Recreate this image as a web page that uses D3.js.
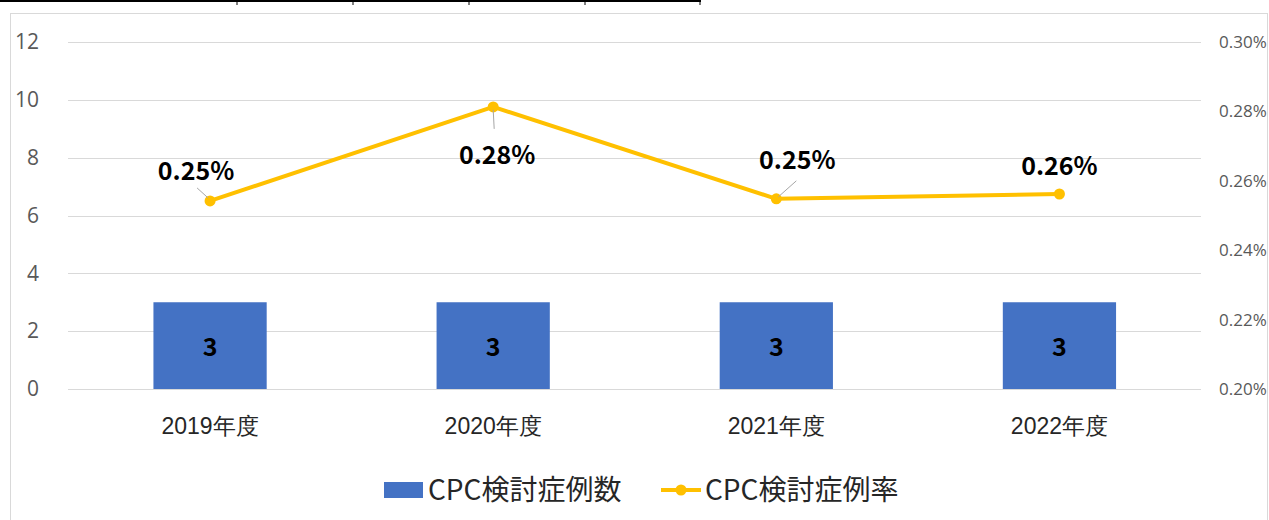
<!DOCTYPE html>
<html>
<head>
<meta charset="utf-8">
<script src="https://cdn.jsdelivr.net/npm/d3@7"></script>
<style>
  body { margin: 0; background: #fff; }
  svg { display: block; font-family: "Noto Sans CJK JP", "Noto Sans", sans-serif; }
</style>
</head>
<body>
<svg id="chart"></svg>
<script>
// CPC検討症例数 (bars, left axis) and CPC検討症例率 (line, right axis)
const years = ["2019年度", "2020年度", "2021年度", "2022年度"];
const caseCounts = [3, 3, 3, 3];
const caseRates = [0.2542, 0.2813, 0.2548, 0.2562];
const rateLabels = ["0.25%", "0.28%", "0.25%", "0.26%"];
const leftTicks = [0, 2, 4, 6, 8, 10, 12];
const rightTicks = [0.2, 0.22, 0.24, 0.26, 0.28, 0.3];

(function draw() {
  const width = 1269,
    height = 520,
    margin = { top: 42, right: 68, bottom: 131, left: 68 };

  const svg = d3.select("svg#chart").attr("width", width).attr("height", height);

  // table fragment above the chart
  const top = svg.append("g");
  top.append("line")
    .attr("x1", 0).attr("x2", 701).attr("y1", 1).attr("y2", 1)
    .attr("stroke", "#000").attr("stroke-width", 2);
  top.selectAll("line.tk")
    .data([237, 353, 469, 585, 700])
    .join("line")
    .attr("class", "tk")
    .attr("x1", d => d).attr("x2", d => d)
    .attr("y1", 1).attr("y2", 5)
    .attr("stroke", "#000").attr("stroke-width", 1);

  // chart frame
  svg.append("rect")
    .attr("x", 10.5).attr("y", 13.5)
    .attr("width", 1257).attr("height", 520)
    .attr("fill", "#fff").attr("stroke", "#d9d9d9");

  const x = d3.scaleBand(years, [margin.left + 0.5, width - margin.right]).paddingInner(0.6).paddingOuter(0.3);
  const xc = d => x(d) + x.bandwidth() / 2;
  const yL = d3.scaleLinear([0, 12], [height - margin.bottom, margin.top]);
  const yR = d3.scaleLinear([0.2, 0.3], [height - margin.bottom, margin.top]);

  // gridlines
  svg.append("g")
    .selectAll("line")
    .data(leftTicks)
    .join("line")
    .attr("x1", margin.left).attr("x2", width - margin.right)
    .attr("y1", d => Math.round(yL(d)) + 0.5).attr("y2", d => Math.round(yL(d)) + 0.5)
    .attr("stroke", "#d9d9d9");

  // left axis
  svg.append("g")
    .attr("transform", `translate(${margin.left}, 0)`)
    .call(d3.axisLeft(yL).tickValues(leftTicks).tickSize(0).tickPadding(29))
    .call(g => g.select(".domain").remove())
    .selectAll("text")
    .attr("fill", "#595959")
    .style("font-size", "21px")
    .style("font-family", "Open Sans, sans-serif");

  // right axis
  svg.append("g")
    .attr("transform", `translate(${width - margin.right}, 0)`)
    .call(d3.axisRight(yR).tickValues(rightTicks).tickSize(0).tickPadding(18)
      .tickFormat(d => d.toFixed(2) + "%"))
    .call(g => g.select(".domain").remove())
    .selectAll("text")
    .attr("fill", "#595959")
    .style("font-size", "17px")
    .style("font-family", "Open Sans, sans-serif");

  // category axis
  svg.append("g")
    .attr("transform", `translate(0, ${height - margin.bottom})`)
    .call(d3.axisBottom(x).tickSize(0).tickPadding(29))
    .call(g => g.select(".domain").remove())
    .selectAll("text")
    .attr("fill", "#262626")
    .style("font-size", "23px");

  // bars
  const bars = svg.append("g")
    .selectAll("g")
    .data(years.map((y, i) => ({ year: y, count: caseCounts[i] })))
    .join("g");

  bars.append("rect")
    .attr("x", d => x(d.year))
    .attr("y", d => yL(d.count))
    .attr("width", x.bandwidth())
    .attr("height", d => yL(0) - yL(d.count))
    .attr("fill", "#4472c4");

  bars.append("text")
    .attr("x", d => xc(d.year))
    .attr("y", d => (yL(0) + yL(d.count)) / 2 + 2)
    .attr("dy", "0.35em")
    .attr("text-anchor", "middle")
    .style("font-size", "25px")
    .style("font-weight", "bold")
    .text(d => d.count);

  // line
  const pts = years.map((y, i) => ({ year: y, rate: caseRates[i], label: rateLabels[i] }));
  const line = d3.line().x(d => xc(d.year)).y(d => yR(d.rate));

  svg.append("path")
    .datum(pts)
    .attr("d", line)
    .attr("fill", "none")
    .attr("stroke", "#ffc000")
    .attr("stroke-width", 4)
    .attr("stroke-linejoin", "round");

  svg.append("g")
    .selectAll("circle")
    .data(pts)
    .join("circle")
    .attr("cx", d => xc(d.year))
    .attr("cy", d => yR(d.rate))
    .attr("r", 5.5)
    .attr("fill", "#ffc000");

  // data label placement relative to each point: [dx, baseline dy, leader end dx, dy, leader start dx, dy]
  const labelOffsets = [
    [-14, -21, -13, -13, -2, -3],
    [4, 57, 1, 22, 0, 3],
    [21, -30, 20, -18, 2, -2],
    [0, -19, null, null, null, null]
  ];

  const labels = svg.append("g")
    .selectAll("g")
    .data(pts)
    .join("g")
    .attr("transform", d => `translate(${xc(d.year)}, ${yR(d.rate)})`);

  labels.filter((d, i) => labelOffsets[i][2] !== null)
    .append("line")
    .attr("x1", d => labelOffsets[pts.indexOf(d)][4])
    .attr("y1", d => labelOffsets[pts.indexOf(d)][5])
    .attr("x2", d => labelOffsets[pts.indexOf(d)][2])
    .attr("y2", d => labelOffsets[pts.indexOf(d)][3])
    .attr("stroke", "#a6a6a6")
    .attr("stroke-width", 1);

  labels.append("text")
    .attr("x", (d, i) => labelOffsets[i][0])
    .attr("y", (d, i) => labelOffsets[i][1])
    .attr("text-anchor", "middle")
    .style("font-size", "25px")
    .style("font-weight", "bold")
    .text(d => d.label);

  // legend
  const legend = svg.append("g").attr("transform", "translate(0, 490)");
  legend.append("rect")
    .attr("x", 384).attr("y", -8).attr("width", 39).attr("height", 16)
    .attr("fill", "#4472c4");
  legend.append("text")
    .attr("x", 428).attr("dy", "0.35em")
    .style("font-size", "28px")
    .attr("fill", "#262626")
    .text("CPC検討症例数");
  legend.append("line")
    .attr("x1", 661).attr("x2", 701).attr("y1", 0).attr("y2", 0)
    .attr("stroke", "#ffc000").attr("stroke-width", 4);
  legend.append("circle")
    .attr("cx", 681).attr("cy", 0).attr("r", 5.5).attr("fill", "#ffc000");
  legend.append("text")
    .attr("x", 705).attr("dy", "0.35em")
    .style("font-size", "28px")
    .attr("fill", "#262626")
    .text("CPC検討症例率");
})();
</script>
</body>
</html>
